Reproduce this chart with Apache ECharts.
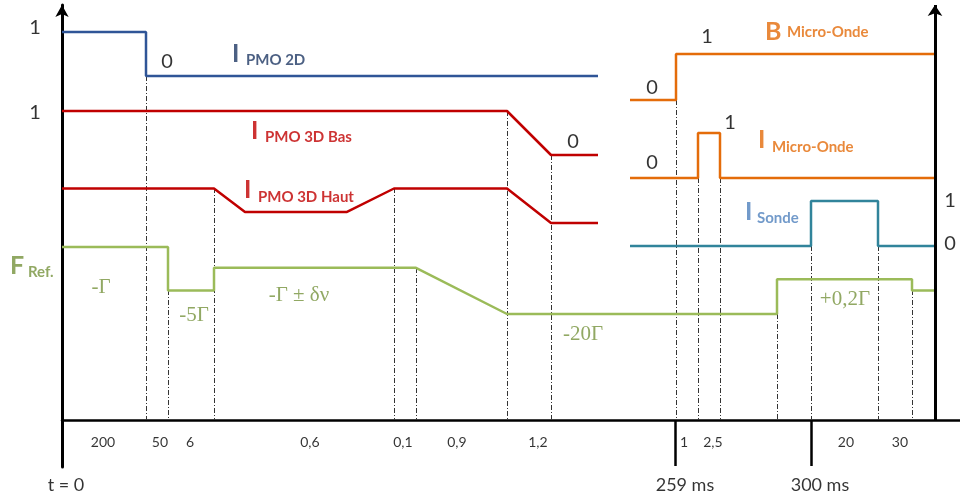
<!DOCTYPE html>
<html><head><meta charset="utf-8">
<script src="https://cdn.jsdelivr.net/npm/echarts@6/dist/echarts.min.js"></script>
<style>html,body{margin:0;padding:0;background:#fff}#c{width:960px;height:498px}</style>
</head><body><div id="c"></div>
<script>
// ---- DATA (schematic time positions, logical signal levels) ----
const pmo2dT     = [0, 84, 84, 536];
const pmo2dL     = [1, 1, 0, 0];
const pmo3dBasT  = [0, 445, 489, 536];
const pmo3dBasL  = [1, 1, 0, 0];
const pmo3dHautT = [0, 152, 183, 285, 332, 445, 489, 536];
const pmo3dHautL = [1, 1, 0.32, 0.32, 1, 1, 0, 0];
const fRefT      = [0, 106, 106, 152, 152, 354, 445, 715, 715, 850, 850, 873];
const fRefL      = [1, 1, 0.35, 0.35, 0.69, 0.69, 0, 0, 0.52, 0.52, 0.35, 0.35];
const bMoT       = [568, 614, 614, 873];
const bMoL       = [0, 0, 1, 1];
const iMoT       = [568, 636, 636, 658, 658, 873];
const iMoL       = [0, 0, 1, 1, 0, 0];
const sondeT     = [568, 749, 749, 816, 816, 873];
const sondeL     = [0, 0, 1, 1, 0, 0];
const guideT     = [84, 106, 152, 332, 354, 445, 489, 614, 636, 658, 715, 749, 816, 850];
const durations  = ['200', '50', '6', '0,6', '0,1', '0,9', '1,2', '1', '2,5', '20', '30'];
const milestones = ['t = 0', '259 ms', '300 ms'];
const milestoneT = [0, 613, 749];
const fRefTexts  = ['-\u0393', '-5\u0393', '-\u0393 \u00b1 \u03b4\u03bd', '-20\u0393', '+0,2\u0393'];

// ---- LAYOUT (positions / sizes / styles) ----
const TOP = 420; // helper: value = TOP - pixelRow
const lay = {
  pmo2d:  {base: TOP - 76,  amp: 44,   color: '#2F5597'},
  bas:    {base: TOP - 155, amp: 44,   color: '#C00000'},
  haut:   {base: TOP - 223, amp: 34.5, color: '#C00000'},
  fref:   {base: TOP - 314, amp: 67,   color: '#9BBB59'},
  bmo:    {base: TOP - 100, amp: 46,   color: '#E46C0A'},
  imo:    {base: TOP - 178, amp: 45,   color: '#E46C0A'},
  sonde:  {base: TOP - 246, amp: 45,   color: '#31849B'}
};
const guideTop = [76, 290, 188, 188, 268, 111, 155, 100, 178, 178, 314, 246, 246, 290].map(p => TOP - p);
const durX = [41, 98, 128, 248, 341, 395, 476, 622, 651, 784, 838];
const msX = [4, 623, 758];
const fRefPos = [[39, 287.5], [132, 316], [237, 296], [521, 334.5], [783, 299.5]];
const sansF = 'Lato, "Open Sans", sans-serif';
const serifF = '"Liberation Serif", "DejaVu Serif", serif';

function sig(T, L, l) { return T.map((t, i) => [t, l.base + L[i] * l.amp]); }
function lineSeries(T, L, l) {
  return {type: 'line', data: sig(T, L, l), showSymbol: false, symbol: 'none', z: 5,
    lineStyle: {color: l.color, width: 2.5}, silent: true, animation: false};
}

const labels = [];
function txt(x, py, text, color, size, weight, align, family) {
  labels.push({value: [x, TOP - py], label: {show: true, position: [0, 0], formatter: text,
    color: color, fontSize: size, fontWeight: weight, align: align, verticalAlign: 'middle',
    fontFamily: family || sansF}});
}
// signal names: big letter + subscript
const names = [
  ['I', 'PMO 2D',      170, 53.5, 184, 60.5, '#1F3864'],
  ['I', 'PMO 3D Bas',  189, 131,  203, 137,  '#C00000'],
  ['I', 'PMO 3D Haut', 182, 189.5, 196, 197, '#C00000'],
  ['F', 'Ref.',        -52, 265.5, -34, 272.5, '#76923C'],
  ['B', 'Micro-Onde',  703, 31.5, 725, 32.5, '#E46C0A'],
  ['I', 'Micro-Onde',  696, 140,  710, 147,  '#E46C0A'],
  ['I', 'Sonde',       683, 212,  695, 218,  '#4F81BD']
];
names.forEach(n => { txt(n[2], n[3], n[0], n[6], 25, 'bold', 'left'); txt(n[4], n[5], n[1], n[6], 15, 'bold', 'left'); });
// level values
[[-27, 28, '1'], [-27, 113, '1'], [105, 62, '0'], [511, 142, '0'], [645, 37, '1'], [590, 88, '0'],
 [668, 123, '1'], [590, 163, '0'], [888, 201, '1'], [888, 244, '0']]
  .forEach(a => txt(a[0], a[1], a[2], '#000', 20, 'normal', 'center'));
durations.forEach((d, i) => txt(durX[i], 443, d, '#000', 14, 'normal', 'center'));
milestones.forEach((m, i) => txt(msX[i], 485, m, '#000', 18, 'normal', 'center'));
fRefTexts.forEach((t, i) => txt(fRefPos[i][0], fRefPos[i][1], t, '#76923C', 21, 'normal', 'center', serifF));

const chart = echarts.init(document.getElementById('c'), null, {renderer: 'canvas'});
chart.setOption({
  animation: false,
  backgroundColor: '#fff',
  grid: {left: 62, right: 0, top: 5, bottom: 31, containLabel: false},
  xAxis: {type: 'value', min: 0, max: 898, axisLine: {onZero: true, lineStyle: {color: '#000', width: 2.5}},
    axisTick: {show: false}, axisLabel: {show: false}, splitLine: {show: false}},
  yAxis: {type: 'value', min: -47, max: 415,
    axisLine: {onZero: true, symbol: ['none', 'arrow'], symbolSize: [10, 12], lineStyle: {color: '#000', width: 3}},
    axisTick: {show: false}, axisLabel: {show: false}, splitLine: {show: false}},
  series: [
    {type: 'lines', coordinateSystem: 'cartesian2d', z: 1, silent: true,
      data: guideT.map((t, i) => ({coords: [[t, guideTop[i]], [t, 0]]})),
      lineStyle: {color: '#333', width: 1, type: [5, 2, 1, 2], opacity: 1}},
    {type: 'lines', coordinateSystem: 'cartesian2d', z: 6, silent: true,
      symbol: ['none', 'arrow'], symbolSize: 11,
      data: [{coords: [[873, 0], [873, 415]]}],
      lineStyle: {color: '#000', width: 3, opacity: 1}},
    {type: 'lines', coordinateSystem: 'cartesian2d', z: 6, silent: true,
      data: milestoneT.slice(1).map(t => ({coords: [[t, 0], [t, -46]]})),
      lineStyle: {color: '#000', width: 2.5, opacity: 1}},
    lineSeries(pmo2dT, pmo2dL, lay.pmo2d),
    lineSeries(pmo3dBasT, pmo3dBasL, lay.bas),
    lineSeries(pmo3dHautT, pmo3dHautL, lay.haut),
    lineSeries(fRefT, fRefL, lay.fref),
    lineSeries(bMoT, bMoL, lay.bmo),
    lineSeries(iMoT, iMoL, lay.imo),
    lineSeries(sondeT, sondeL, lay.sonde),
    {type: 'scatter', z: 10, silent: true, clip: false, symbolSize: 0.1, itemStyle: {color: 'rgba(0,0,0,0)'},
      data: labels}
  ]
});
</script></body></html>
